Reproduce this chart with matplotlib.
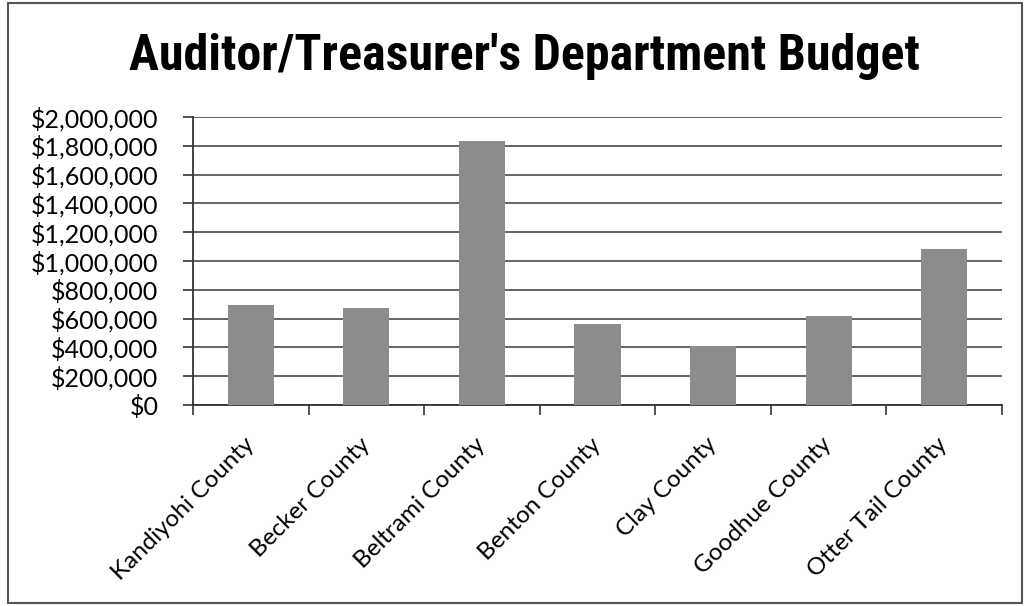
import matplotlib
matplotlib.use('Agg')
import matplotlib.pyplot as plt
from matplotlib.ticker import FuncFormatter, MultipleLocator
from matplotlib.patches import Rectangle
from matplotlib import font_manager

# Data
counties = ['Kandiyohi County', 'Becker County', 'Beltrami County', 'Benton County',
            'Clay County', 'Goodhue County', 'Otter Tail County']
budget = [695000, 672000, 1835000, 565000, 410000, 620000, 1085000]

title = "Auditor/Treasurer's Department Budget"

# narrow bold face for the title, if one is around
names = {f.name for f in font_manager.fontManager.ttflist}
narrow = [n for n in ['Liberation Sans Narrow', 'Roboto Condensed', 'Open Sans Condensed']
          if n in names]
title_family = narrow + ['DejaVu Sans']

fig = plt.figure(figsize=(10.24, 6.06), dpi=100)
ax = fig.add_axes([0.1885, 0.3317, 0.79, 0.4753])

x = list(range(len(counties)))
ax.bar(x, budget, width=0.4, color='#8c8c8c', zorder=3)

ax.set_xlim(-0.5, len(counties) - 0.5)
ax.set_ylim(0, 2000000)
ax.yaxis.set_major_locator(MultipleLocator(200000))
ax.yaxis.set_major_formatter(FuncFormatter(lambda v, p: '${:,.0f}'.format(v)))
ax.grid(axis='y', color='#4a4a4a', linewidth=1.2, zorder=1)

# category boundaries as tick marks, labels at centres
ax.set_xticks([i - 0.5 for i in range(len(counties) + 1)], minor=False)
ax.set_xticklabels([])
ax.set_xticks(x, minor=True)
ax.set_xticklabels(counties, minor=True, rotation=45, ha='right', va='center',
                   rotation_mode='anchor', fontsize=17.5, family=['Lato', 'DejaVu Sans'])
ax.tick_params(axis='x', which='minor', length=0, pad=26)
ax.tick_params(axis='x', which='major', length=7, width=1.2, color='#333333', direction='out')
ax.tick_params(axis='y', length=7, width=1.2, color='#333333', labelsize=18, pad=18)
for lbl in ax.get_yticklabels():
    lbl.set_family(['Lato', 'DejaVu Sans'])

for s in ['top', 'right']:
    ax.spines[s].set_visible(False)
for s in ['left', 'bottom']:
    ax.spines[s].set_color('#333333')
    ax.spines[s].set_linewidth(1.3)

fig.text(0.512, 0.907, title, ha='center', va='center', fontsize=36, fontweight='bold',
         fontstretch='condensed', family=title_family)

# chart border
fig.patches.append(Rectangle((0.008, 0.005), 0.99, 0.99, transform=fig.transFigure,
                             fill=False, edgecolor='#555555', linewidth=1.5))

fig.savefig('out.png', dpi=100)
